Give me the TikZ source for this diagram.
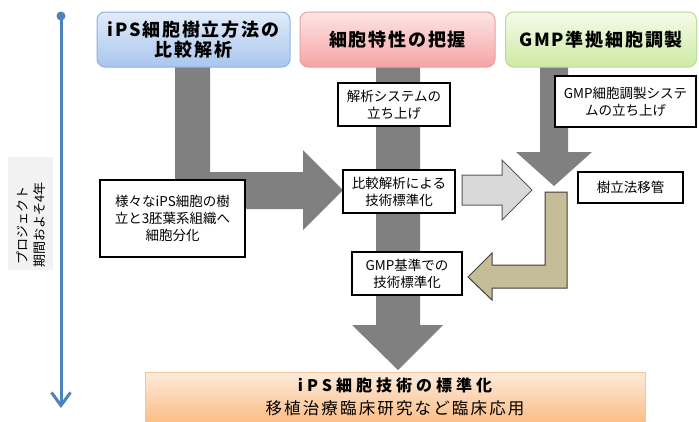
\documentclass[tikz,border=0pt]{standalone}
\usepackage{fontspec}
\setmainfont{Noto Sans CJK JP}
\usetikzlibrary{arrows.meta}
\definecolor{tlblue}{HTML}{4F81BD}
\definecolor{garr}{HTML}{808080}
\definecolor{larr}{HTML}{D9D9D9}
\definecolor{larrline}{HTML}{595959}
\definecolor{tarr}{HTML}{C4BD97}
\definecolor{tarrline}{HTML}{3F3F3F}
\definecolor{bluetop}{HTML}{E2ECF9}
\definecolor{bluebot}{HTML}{A9C6EE}
\definecolor{blueline}{HTML}{8EB0E0}
\definecolor{pinktop}{HTML}{FDE6E6}
\definecolor{pinkbot}{HTML}{F6A3A3}
\definecolor{pinkline}{HTML}{E8A0A0}
\definecolor{greentop}{HTML}{F6FBEA}
\definecolor{greenbot}{HTML}{CDEAA3}
\definecolor{greenline}{HTML}{BCD99A}
\definecolor{orangetop}{HTML}{FDEBDC}
\definecolor{orangebot}{HTML}{FBBA80}
\definecolor{orangeline}{HTML}{F8C59A}
\definecolor{sidebg}{HTML}{F2F2F2}
\tikzset{
  headbox/.style={rounded corners=8pt, line width=1pt, minimum height=55pt,
    inner sep=0pt, align=center, font=\fontsize{18}{20}\selectfont\bfseries\addfontfeature{LetterSpace=10}},
  txtbox/.style={draw=black, line width=1.1pt, fill=white, inner sep=0pt,
    align=center, font=\fontsize{13.5}{17}\selectfont},
  garrow/.style={fill=garr},
  larrow/.style={fill=larr, draw=larrline, line width=1pt, line join=miter},
  tarrow/.style={fill=tarr, draw=tarrline, line width=1pt, line join=miter},
}
\begin{document}
\begin{tikzpicture}[x=1pt,y=-1pt]
\useasboundingbox (0,0) rectangle (699,421);
\clip (0,0) rectangle (699,421);

% side label
\fill[sidebg] (8,157) rectangle (53,270);
\node[rotate=90, align=center, font=\fontsize{13}{17}\selectfont, text=black] (period) at (31,225) {プロジェクト\\期間およそ4年};

% timeline
\node[circle, fill=tlblue, minimum size=9pt, inner sep=0pt] (tstart) at (61,16) {};
\coordinate (tend) at (61,408);
\draw[draw=tlblue, line width=3pt, -{Straight Barb[length=13pt,width=19pt,line width=3pt]}] (tstart.center) -- (tend);

% gray block arrows
\fill[garrow] (175,60) -- (210,60) -- (210,172) -- (303,172) -- (303,150) -- (343,190) -- (303,230) -- (303,209) -- (175,209) -- cycle;
\fill[garrow] (376,60) -- (420,60) -- (420,325) -- (443,325) -- (398,370) -- (352,325) -- (376,325) -- cycle;
\fill[garrow] (540,60) -- (568,60) -- (568,152) -- (592,152) -- (554,186) -- (516,152) -- (540,152) -- cycle;

% light gray arrow
\draw[larrow] (462,175) -- (502,175) -- (502,160) -- (532,190) -- (502,220) -- (502,205) -- (462,205) -- cycle;

% tan L arrow
\draw[tarrow] (545,192) -- (567,192) -- (567,288) -- (492,288) -- (492,300) -- (468,277) -- (492,253) -- (492,265) -- (545,265) -- cycle;

% header boxes
\node[headbox, draw=blueline, top color=bluetop, bottom color=bluebot, minimum width=193pt] (h1) at (193.5,39.5) {iPS細胞樹立方法の\\比較解析};
\node[headbox, draw=pinkline, top color=pinktop, bottom color=pinkbot, minimum width=195pt] (h2) at (397.5,39.5) {細胞特性の把握};
\node[headbox, draw=greenline, top color=greentop, bottom color=greenbot, minimum width=191pt] (h3) at (601,39.5) {GMP準拠細胞調製};

% text boxes
\node[txtbox, minimum width=112pt, minimum height=43pt] (sys) at (394,104.5) {解析システムの\\立ち上げ};
\node[txtbox, minimum width=145pt, minimum height=77pt] (diverse) at (172.5,218.5) {様々なiPS細胞の樹\\立と3胚葉系組織へ\\細胞分化};
\node[txtbox, minimum width=112pt, minimum height=43pt] (comp) at (399,191.5) {比較解析による\\技術標準化};
\node[txtbox, minimum width=110pt, minimum height=43pt] (gmpstd) at (407,273.5) {GMP基準での\\技術標準化};
\node[txtbox, minimum width=141pt, minimum height=51pt] (gmpsys) at (625.5,101.5) {GMP細胞調製システ\\ムの立ち上げ};
\node[txtbox, minimum width=105pt, minimum height=31pt] (transfer) at (630.5,187.5) {樹立法移管};

% bottom result box
\node[draw=orangeline, line width=0.8pt, top color=orangetop, bottom color=orangebot, minimum width=500pt, minimum height=54pt, inner sep=0pt] (result) at (395,399) {};
\node[font=\fontsize{16}{18}\selectfont\bfseries\addfontfeature{LetterSpace=25}] (r1) at (395,385) {iPS細胞技術の標準化};
\node[font=\fontsize{16.5}{18}\selectfont\addfontfeature{LetterSpace=13}] (r2) at (395,408) {移植治療臨床研究など臨床応用};
\end{tikzpicture}
\end{document}
